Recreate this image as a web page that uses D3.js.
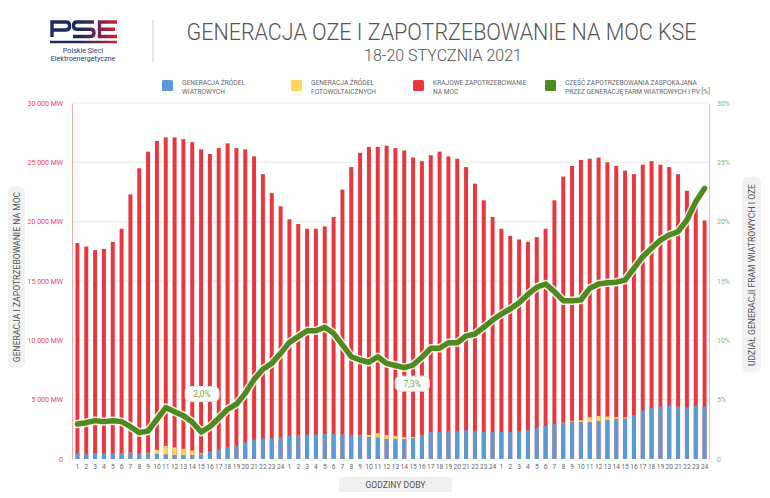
<!DOCTYPE html>
<html><head><meta charset="utf-8">
<script src="https://cdn.jsdelivr.net/npm/d3@7"></script>
<style>
body{margin:0;background:#fff}
svg{display:block}
text{font-family:Roboto,"Open Sans",sans-serif}
</style>
</head><body>
<svg id="c" width="770" height="498"></svg>
<script>
// ---- data ----
const dayHours = ["1","2","3","4","5","6","7","8","9","10","11","12","13","14","15","16","17","18","19","20","21","22","23","24"];
const days = ["18.01","19.01","20.01"];
const demand = [18200,17900,17600,17700,18300,19400,22300,24500,25900,26800,27100,27100,26950,26700,26100,25700,26200,26600,26200,26100,25500,24000,22400,21300,
  20200,19800,19400,19400,19600,20400,22700,24600,25800,26300,26300,26400,26200,26000,25400,25100,25600,25900,25500,25300,24600,23200,21800,20400,
  19400,18800,18500,18300,18700,19400,21800,23800,24700,25200,25300,25400,25000,24700,24300,24000,24800,25100,24800,24600,24000,22600,21400,20100];
const wind = [500,470,510,490,510,510,540,460,460,430,370,340,290,340,370,600,860,1000,1140,1400,1630,1740,1740,1860,
  1940,2000,2060,2060,2110,2110,2090,2030,1970,1860,1800,1680,1670,1640,1750,2000,2280,2280,2360,2330,2420,2330,2280,2280,
  2280,2280,2330,2450,2640,2780,2950,3000,3140,3090,3090,3200,3280,3340,3390,3670,4090,4280,4420,4480,4420,4340,4450,4450];
const pv = [0,0,0,0,0,0,30,20,60,340,740,630,570,370,110,20,0,0,0,0,0,0,0,0,
  0,0,0,0,0,0,0,0,60,170,370,330,280,190,110,30,0,0,0,0,0,0,0,0,
  0,0,0,0,0,0,0,60,80,170,440,420,300,190,110,20,0,0,0,0,0,0,0,0];
const share = [2.95,3.06,3.23,3.15,3.23,3.15,2.72,2.22,2.36,3.34,4.33,3.99,3.65,3.12,2.27,2.72,3.43,4.19,4.62,5.53,6.71,7.56,8.06,8.9,
  9.83,10.31,10.81,10.81,11.1,10.59,9.61,8.62,8.34,8.15,8.62,8.06,7.88,7.7,7.92,8.57,9.33,9.33,9.8,9.8,10.36,10.53,11.1,11.71,
  12.22,12.64,13.17,13.87,14.47,14.75,14.1,13.34,13.34,13.4,14.38,14.75,14.86,14.9,15.08,16.07,17.05,17.75,18.45,18.88,19.16,20.14,21.68,22.81];
const mwTicks = [0,5000,10000,15000,20000,25000,30000];
const pctTicks = [0,5,10,15,20,25,30];
const annotIndex = [14,37];
const annotText = ["2,0%","7,3%"];
const legendLabels = [["GENERACJA ŹRÓDEŁ","WIATROWYCH"],["GENERACJA ŹRÓDEŁ","FOTOWOLTAICZNYCH"],["KRAJOWE ZAPOTRZEBOWANIE","NA MOC"],["CZĘŚĆ ZAPOTRZEBOWANIA ZASPOKAJANA","PRZEZ GENERACJĘ FARM WIATROWYCH I PV [%]"]];
const title = "GENERACJA OZE I ZAPOTRZEBOWANIE NA MOC KSE";
const subtitle = "18-20 STYCZNIA 2021";

// ---- styles ----
const C = {blue:"#5b9bd5", yellow:"#fdd85d", red:"#e8383f", green:"#4f8a1f"};
const legendColors = [C.blue, C.yellow, C.red, C.green];

const cats = [];
days.forEach(d => dayHours.forEach(h => cats.push(d + "-" + h)));

const svg = d3.select("#c");
svg.append("rect").attr("width",770).attr("height",498).attr("fill","#fff");

const x = d3.scaleBand().domain(cats).range([73,709]).paddingInner(0.55).paddingOuter(0.275);
const y = d3.scaleLinear().domain([0,30000]).range([459,103]);
const yp = d3.scaleLinear().domain([0,30]).range([459,103]);
const cx = i => x(cats[i]) + x.bandwidth()/2;

// ---- logo ----
const defs = svg.append("defs");
const g1 = defs.append("linearGradient").attr("id","pse").attr("gradientUnits","userSpaceOnUse")
  .attr("x1",50).attr("x2",117).attr("y1",0).attr("y2",0);
g1.append("stop").attr("offset","0").attr("stop-color","#1c2b5e");
g1.append("stop").attr("offset","0.45").attr("stop-color","#1f2a5c");
g1.append("stop").attr("offset","0.75").attr("stop-color","#7a2550");
g1.append("stop").attr("offset","1").attr("stop-color","#d8202c");
const logo = svg.append("g").attr("fill","none").attr("stroke","url(#pse)").attr("stroke-width",3.4);
logo.append("path").attr("d","M52,37 V22 H66 Q69.5,22 69.5,25.5 V26.5 Q69.5,30 66,30 H53");
logo.append("path").attr("d","M94,22 H77 Q73.5,22 73.5,25.5 V26 Q73.5,29.2 77,29.2 H90.5 Q94,29.2 94,32.7 V33 Q94,36.5 90.5,36.5 H73");
logo.append("path").attr("d","M117,22 H99.5 V36.5 H117 M99.5,29.2 H115");
logo.append("path").attr("d","M50,42 H117").attr("stroke-width",2.4);
svg.append("text").attr("x",83).attr("y",53).attr("text-anchor","middle").attr("font-size",7.2).attr("fill","#1f3a78").text("Polskie Sieci");
svg.append("text").attr("x",83).attr("y",61).attr("text-anchor","middle").attr("font-size",7.2).attr("fill","#1f3a78").text("Elektroenergetyczne");
svg.append("line").attr("x1",153).attr("x2",153).attr("y1",20).attr("y2",62).attr("stroke","#cfcfcf").attr("stroke-width",1);

// ---- titles ----
svg.append("text").attr("x",441.5).attr("y",40).attr("text-anchor","middle").attr("font-size",24).attr("font-weight",300)
  .attr("fill","#555").attr("textLength",510).attr("lengthAdjust","spacingAndGlyphs").text(title);
svg.append("text").attr("x",443).attr("y",60.5).attr("text-anchor","middle").attr("font-size",16).attr("font-weight",300)
  .attr("fill","#555").attr("textLength",158).attr("lengthAdjust","spacingAndGlyphs").text(subtitle);

// ---- legend ----
const legX = [162,291,413,545];
legendLabels.forEach((lines,i) => {
  const g = svg.append("g").attr("transform",`translate(${legX[i]},80)`);
  g.append("rect").attr("width",11).attr("height",11).attr("rx",1.5).attr("fill",legendColors[i]);
  lines.forEach((t,j) => g.append("text").attr("x",20).attr("y",5 + j*9).attr("font-size",6.6).attr("fill","#666").text(t));
});

// ---- grid ----
svg.append("g").selectAll("line").data(mwTicks.slice(1)).join("line")
  .attr("x1",72).attr("x2",709).attr("y1",d=>y(d)).attr("y2",d=>y(d))
  .attr("stroke","#ebebeb").attr("stroke-width",1);

// ---- axes ----
const fmtMW = d => d === 0 ? "0" : d3.format(",")(d).replace(/,/g," ") + " MW";
const la = svg.append("g").attr("transform","translate(72,0)")
  .call(d3.axisLeft(y).tickValues(mwTicks).tickFormat(fmtMW).tickSize(0).tickPadding(9));
la.select(".domain").attr("stroke","#f2aaaa");
la.selectAll("text").attr("fill","#e8474c").attr("font-size",7).attr("font-family","Roboto,sans-serif");

const ra = svg.append("g").attr("transform","translate(709,0)")
  .call(d3.axisRight(yp).tickValues(pctTicks).tickFormat(d => d === 0 ? "0" : d + "%").tickSize(0).tickPadding(8));
ra.select(".domain").attr("stroke","#bcd3a4");
ra.selectAll("text").attr("fill","#8db562").attr("font-size",7).attr("font-family","Roboto,sans-serif");

const xa = svg.append("g").attr("transform","translate(0,459)")
  .call(d3.axisBottom(x).tickFormat((d,i) => dayHours[i % 24]).tickSize(0).tickPadding(5));
xa.select(".domain").remove();
xa.selectAll("text").attr("fill","#666").attr("font-size",6.6).attr("font-family","Roboto,sans-serif");

// ---- bars ----
const bars = svg.append("g");
bars.selectAll("rect.r").data(demand).join("rect").attr("class","r")
  .attr("x",(d,i)=>x(cats[i])).attr("width",x.bandwidth())
  .attr("y",d=>y(d)).attr("height",d=>y(0)-y(d)).attr("fill",C.red);
bars.selectAll("rect.y").data(pv).join("rect").attr("class","y")
  .attr("x",(d,i)=>x(cats[i])).attr("width",x.bandwidth())
  .attr("y",(d,i)=>y(wind[i]+d)).attr("height",(d,i)=>y(wind[i])-y(wind[i]+d)).attr("fill",C.yellow);
bars.selectAll("rect.b").data(wind).join("rect").attr("class","b")
  .attr("x",(d,i)=>x(cats[i])).attr("width",x.bandwidth())
  .attr("y",d=>y(d)).attr("height",d=>y(0)-y(d)).attr("fill",C.blue);

// ---- line ----
const line = d3.line().x((d,i)=>cx(i)).y(d=>yp(d));
svg.append("path").datum(share).attr("d",line).attr("fill","none").attr("stroke","#fff")
  .attr("stroke-width",8.5).attr("stroke-linejoin","round").attr("stroke-linecap","round").attr("opacity",0.85);
svg.append("path").datum(share).attr("d",line).attr("fill","none").attr("stroke",C.green)
  .attr("stroke-width",5.5).attr("stroke-linejoin","round").attr("stroke-linecap","round");

// ---- annotations ----
const annotDy = [-38, 16];
const annotDx = [1, 8];
annotIndex.forEach((idx,k) => {
  const ax = cx(idx) + annotDx[k], ay = yp(share[idx]) + annotDy[k];
  const g = svg.append("g").attr("transform",`translate(${ax},${ay})`);
  g.append("rect").attr("x",-17).attr("y",-7.5).attr("width",34).attr("height",15).attr("rx",5)
    .attr("fill","#fff").attr("stroke","#e4e4e4").attr("stroke-width",1);
  g.append("text").attr("text-anchor","middle").attr("dy","0.35em").attr("font-size",8.5).attr("fill","#7aa54a").text(annotText[k]);
});

// ---- axis titles ----
svg.append("rect").attr("x",8).attr("y",186).attr("width",17).attr("height",182).attr("rx",6).attr("fill","#f2f2f2");
svg.append("text").attr("transform","translate(16.5,277) rotate(-90)").attr("text-anchor","middle").attr("dy","0.35em")
  .attr("font-size",8.6).attr("fill","#555").text("GENERACJA I ZAPOTRZEBOWANIE NA MOC");
svg.append("rect").attr("x",742).attr("y",177).attr("width",19).attr("height",195).attr("rx",6).attr("fill","#f2f2f2");
svg.append("text").attr("transform","translate(751.5,275) rotate(-90)").attr("text-anchor","middle").attr("dy","0.35em")
  .attr("font-size",8.6).attr("fill","#555").text("UDZIAŁ GENERACJI FRAM WIATROWYCH I OZE");
svg.append("rect").attr("x",339).attr("y",477).attr("width",113).attr("height",15).attr("rx",2).attr("fill","#f0f0f0");
svg.append("text").attr("x",395.5).attr("y",484.5).attr("text-anchor","middle").attr("dy","0.35em")
  .attr("font-size",8.6).attr("fill","#555").text("GODZINY DOBY");
</script>
</body></html>
